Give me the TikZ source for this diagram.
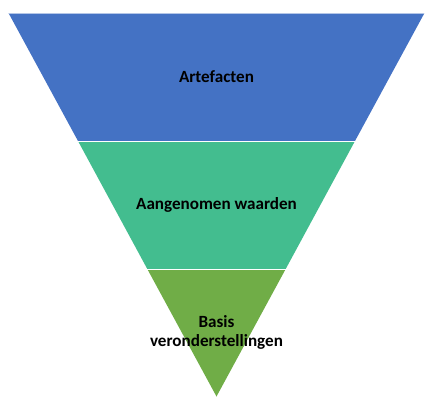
\documentclass[tikz,border=0pt]{standalone}
\usepackage{fontspec}
\setmainfont{Carlito}
\definecolor{bandA}{HTML}{4472C4}
\definecolor{bandB}{HTML}{43BD8F}
\definecolor{bandC}{HTML}{70AD47}
\begin{document}
\begin{tikzpicture}[x=1pt,y=-1pt,
  band/.style={draw=white,line width=0.9pt,line join=miter},
  lbl/.style={font=\fontsize{17.1}{19.5}\selectfont\bfseries,text=black,align=center,inner sep=0pt}]
\useasboundingbox (0,0) rectangle (439,410);
\coordinate (TL) at (8.5,13);
\coordinate (TR) at (424.5,13);
\coordinate (L1) at (78,141);
\coordinate (R1) at (355,141);
\coordinate (L2) at (147.3,269);
\coordinate (R2) at (285.7,269);
\coordinate (AP) at (216.5,396.5);
\fill[bandA] (TL) -- (TR) -- (R1) -- (L1) -- cycle;
\fill[bandB] (L1) -- (R1) -- (R2) -- (L2) -- cycle;
\fill[bandC] (L2) -- (R2) -- (AP) -- cycle;
\draw[white,line width=0.6pt,opacity=0.6] (TL) -- (TR);
\draw[white,line width=1pt] (L1) -- (R1);
\draw[white,line width=1pt] (L2) -- (R2);
\node[lbl] (a) at (216.5,77) {Artefacten};
\node[lbl] (b) at (216.5,205) {Aangenomen waarden};
\node[lbl] (c) at (216.5,332.5) {Basis\\veronderstellingen};
\end{tikzpicture}
\end{document}
